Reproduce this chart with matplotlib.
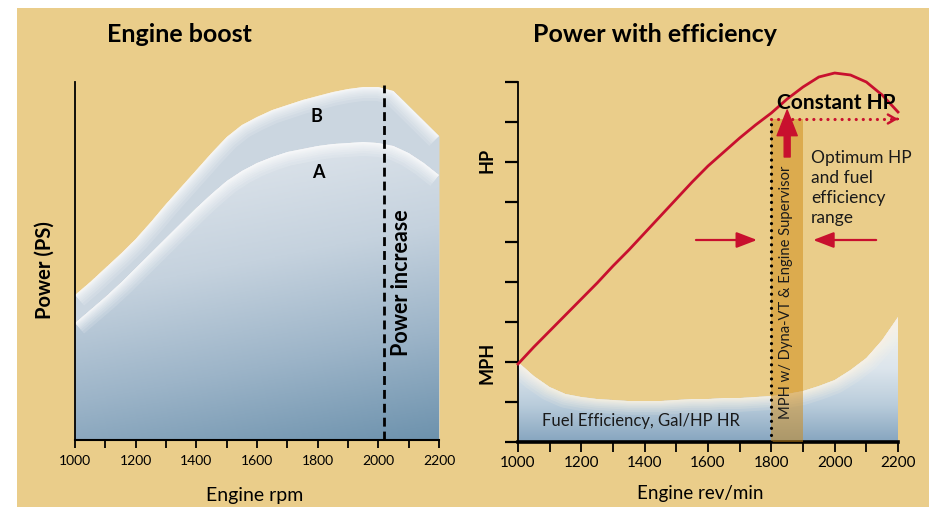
import numpy as np
import matplotlib
matplotlib.use("Agg")
import matplotlib.pyplot as plt
from matplotlib.patches import Rectangle, FancyArrowPatch
from matplotlib.colors import LinearSegmentedColormap

plt.rcParams['font.family'] = ['Lato', 'DejaVu Sans']

# ---------------- data ----------------
rpm = [1000, 1050, 1100, 1150, 1200, 1250, 1300, 1350, 1400, 1450, 1500, 1550, 1600,
       1650, 1700, 1750, 1800, 1850, 1900, 1950, 2000, 2050, 2100, 2150, 2200]
power_B = [145, 158, 172, 186, 201, 218, 236, 253, 270, 287, 303, 315, 323,
           330, 335, 340, 344, 348, 351, 353, 353, 349, 334, 319, 304]
power_A = [117, 130, 143, 157, 172, 187, 202, 217, 232, 246, 259, 269, 277,
           283, 288, 291, 294, 296, 297, 298, 297, 294, 287, 277, 265]
hp_curve = [78, 95, 111, 127, 143, 159, 176, 192, 209, 226, 243, 260, 276,
            290, 304, 317, 329, 343, 355, 365, 369, 367, 360, 347, 330]
fuel_eff = [80, 66, 55, 48, 45, 43, 42, 41, 41, 41, 42, 43, 43,
            44, 44, 45, 46, 48, 51, 56, 62, 72, 84, 102, 125]
xticks = [1000, 1100, 1200, 1300, 1400, 1500, 1600, 1700, 1800, 1900, 2000, 2100, 2200]
xticklabels = ['1000', '', '1200', '', '1400', '', '1600', '', '1800', '', '2000', '', '2200']
right_yticks = [0, 40, 80, 120, 160, 200, 240, 280, 320, 360]
power_increase_rpm = 2020
optimum_range = [1800, 1900]
constant_hp_level = 323

# ---------------- style ----------------
W, H = 932, 507
TAN = '#EACD8A'
RED = '#C8102E'
TICKRED = '#E8452F'
fig = plt.figure(figsize=(W / 100, H / 100), dpi=100)
fig.patch.set_facecolor('white')
fig.patches.append(Rectangle((17 / W, 0), (929 - 17) / W, (H - 8) / H,
                             transform=fig.transFigure, facecolor=TAN,
                             edgecolor='none', zorder=-5))


def fp(x, y):
    return x / W, 1 - y / H


def add_glow(ax, x, y, clip_path, color, maxw, n, alpha, z):
    for lw in np.geomspace(1.5, maxw, n):
        ln, = ax.plot(x, y, color=color, lw=lw, alpha=alpha,
                      solid_capstyle='butt', zorder=z)
        ln.set_clip_path(clip_path, ax.transData)


# ================= Left panel =================
ax1 = fig.add_axes([75 / W, 1 - 440 / H, 364 / W, 358 / H])
ax1.set_facecolor('none')
ax1.set_xlim(1000, 2200)
ax1.set_ylim(0, 358)

collB = ax1.fill_between(rpm, 0, power_B, color='#CBD6E0', lw=0, zorder=1)
pathB = collB.get_paths()[0]
add_glow(ax1, rpm, power_B, pathB, 'white', 20, 12, 0.14, 1.5)

collA = ax1.fill_between(rpm, 0, power_A, color='none', lw=0, zorder=2)
pathA = collA.get_paths()[0]
gx, gy = np.meshgrid(np.linspace(0, 1, 300), np.linspace(0, 358, 300))
s = np.clip(0.9 * gy / 290 + 0.22 * (1 - gx), 0, 1)
cmapA = LinearSegmentedColormap.from_list('a', ['#6D92AD', '#9CB4C8', '#C5D2DE', '#DCE3EA'])
im = ax1.imshow(s, extent=[1000, 2200, 0, 358], origin='lower', aspect='auto',
                cmap=cmapA, vmin=0, vmax=1, zorder=2, interpolation='bilinear')
im.set_clip_path(pathA, ax1.transData)
add_glow(ax1, rpm, power_A, pathA, 'white', 20, 12, 0.14, 2.5)

ax1.plot([power_increase_rpm, power_increase_rpm], [0, 355], color='black', lw=2,
         linestyle=(0, (3.2, 1.8)), zorder=4)

ax1.text(1795, 323, 'B', fontsize=13, fontweight='bold', ha='center', va='center', zorder=5)
ax1.text(1801, 267, 'A', fontsize=13, fontweight='bold', ha='center', va='center', zorder=5)
ax1.text(2078, 157, 'Power increase', fontsize=15.5, fontweight='bold', rotation=90,
         ha='center', va='center', zorder=5)

for sp in ['top', 'right']:
    ax1.spines[sp].set_visible(False)
ax1.spines['left'].set_linewidth(1.3)
ax1.spines['bottom'].set_linewidth(1.5)
ax1.set_yticks([])
ax1.set_xticks(xticks)
ax1.set_xticklabels(xticklabels, fontsize=10)
ax1.tick_params(axis='x', direction='out', length=6, width=1.3, pad=5)

fig.text(*fp(179, 35), 'Engine boost', fontsize=18, fontweight='bold', ha='center', va='center')
fig.text(*fp(255, 496), 'Engine rpm', fontsize=14, ha='center', va='center')
fig.text(*fp(45, 270), 'Power (PS)', fontsize=14.5, fontweight='bold', rotation=90,
         ha='center', va='center')

# ================= Right panel =================
ax2 = fig.add_axes([518 / W, 1 - 442 / H, 380 / W, 360 / H])
ax2.set_facecolor('none')
ax2.set_xlim(1000, 2200)
ax2.set_ylim(0, 360)

collF = ax2.fill_between(rpm, 0, fuel_eff, color='none', lw=0, zorder=1)
pathF = collF.get_paths()[0]
fx_, fy_ = np.meshgrid(np.linspace(0, 1, 200), np.linspace(0, 130, 300))
sf = np.clip(fy_ / 110, 0, 1)
cmapF = LinearSegmentedColormap.from_list('f', ['#86A5BF', '#B9CCDB', '#DCE5EC', '#EEF0EE'])
imf = ax2.imshow(sf, extent=[1000, 2200, 0, 130], origin='lower', aspect='auto',
                 cmap=cmapF, vmin=0, vmax=1, zorder=1, interpolation='bilinear')
imf.set_clip_path(pathF, ax2.transData)
add_glow(ax2, rpm, fuel_eff, pathF, '#FCF5E6', 20, 12, 0.15, 1.5)

ax2.fill_between(optimum_range, 0, constant_hp_level, color='#D08A14', alpha=0.5,
                 lw=0, zorder=3)
ax2.plot([optimum_range[0]] * 2, [0, constant_hp_level], color='black', lw=2.3,
         linestyle=(0, (0.01, 2.2)), dash_capstyle='round', zorder=5)
ax2.plot([optimum_range[0], 2192], [constant_hp_level] * 2, color=RED, lw=2.3,
         linestyle=(0, (0.01, 2.2)), dash_capstyle='round', zorder=5)
ax2.annotate('', xy=(2200, constant_hp_level), xytext=(2197, constant_hp_level),
             arrowprops=dict(arrowstyle='->,head_length=0.55,head_width=0.32', color=RED,
                             lw=1.8, shrinkA=0, shrinkB=0), zorder=5)

ax2.plot(rpm, hp_curve, color=RED, lw=2, clip_on=False, zorder=6)

big = FancyArrowPatch((1850, 285), (1850, 332),
                      arrowstyle='simple,head_length=18.5,head_width=14.5,tail_width=4.3',
                      mutation_scale=1, color=RED, shrinkA=0, shrinkB=0, zorder=7)
ax2.add_patch(big)
for x0, x1 in [(1562, 1755), (2131, 1932)]:
    ar = FancyArrowPatch((x0, 202), (x1, 202),
                         arrowstyle='-|>,head_length=12.5,head_width=4.8',
                         mutation_scale=1, color=RED, lw=1.6, shrinkA=0, shrinkB=0, zorder=7)
    ax2.add_patch(ar)

ax2.text(2004, 339, 'Constant HP', fontsize=15, fontweight='bold', ha='center',
         va='center', zorder=8)
ax2.text(1925, 292, 'Optimum HP\nand fuel\nefficiency\nrange', fontsize=12.5,
         ha='left', va='top', linespacing=1.32, zorder=8, color='#1a1a1a')
ax2.text(1076, 21, 'Fuel Efficiency, Gal/HP HR', fontsize=12, ha='left',
         va='center', zorder=8, color='#1a1a1a')
ax2.text(1847, 150, 'MPH w/ Dyna-VT & Engine Supervisor', fontsize=10.6, rotation=90,
         ha='center', va='center', zorder=8, color='#1a1a1a')

for sp in ['top', 'right']:
    ax2.spines[sp].set_visible(False)
ax2.spines['left'].set_linewidth(1.3)
ax2.spines['bottom'].set_linewidth(2.6)
ax2.set_xticks(xticks)
ax2.set_xticklabels(xticklabels, fontsize=11)
ax2.tick_params(axis='x', direction='out', length=7, width=1.3, pad=3)
ax2.set_yticks(right_yticks)
ax2.set_yticklabels([])
ax2.tick_params(axis='y', direction='out', length=9.5, width=1.6)
for tk, v in zip(ax2.yaxis.get_major_ticks(), right_yticks):
    tk.tick1line.set_color(TICKRED if v >= 200 else 'black')
    tk.tick1line.set_clip_on(False)

fig.text(*fp(655, 35), 'Power with efficiency', fontsize=18, fontweight='bold',
         ha='center', va='center')
fig.text(*fp(700, 493), 'Engine rev/min', fontsize=13.5, ha='center', va='center')
fig.text(*fp(487, 160), 'HP', fontsize=13, fontweight='bold', rotation=90,
         ha='center', va='center')
fig.text(*fp(487, 363), 'MPH', fontsize=13, fontweight='bold', rotation=90,
         ha='center', va='center')

fig.savefig('out.png', dpi=100)
